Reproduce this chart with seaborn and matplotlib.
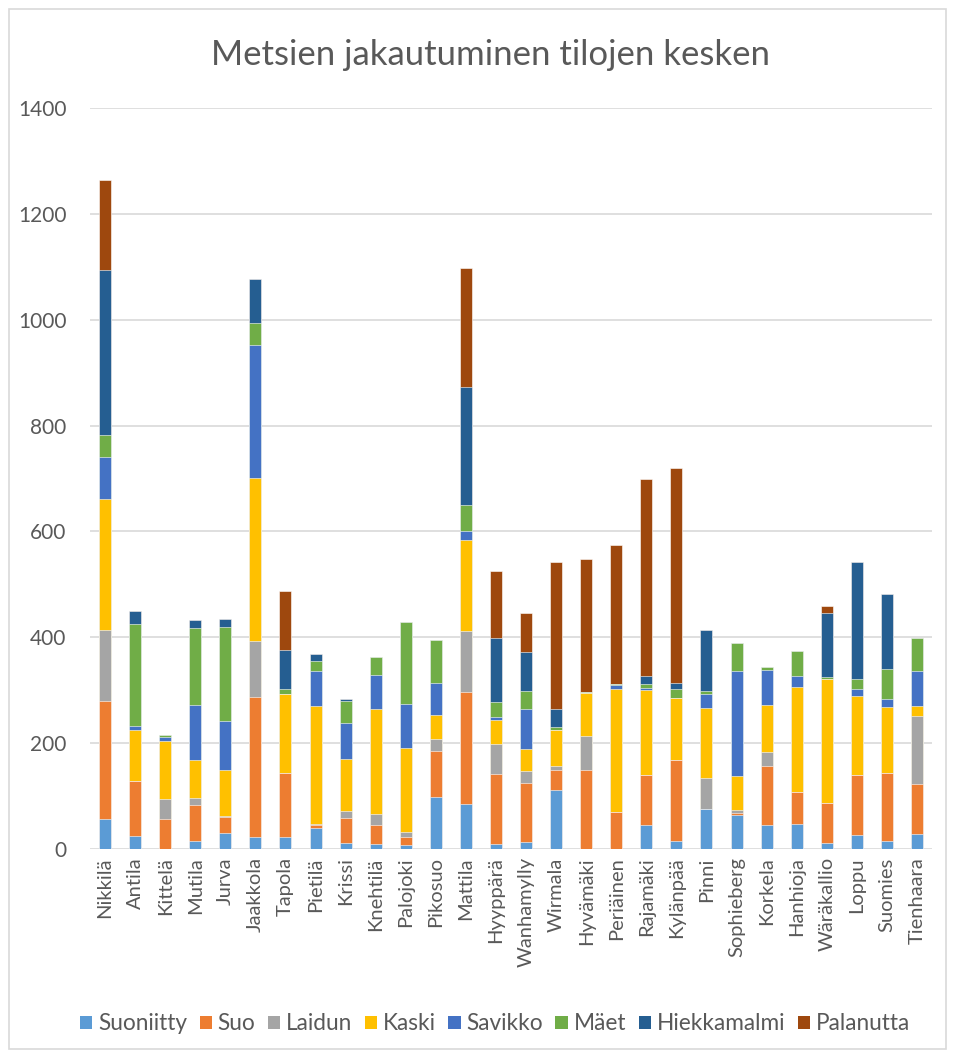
import numpy as np
import pandas as pd
import matplotlib
matplotlib.use("Agg")
import matplotlib.pyplot as plt
from matplotlib.patches import Patch, Rectangle
import seaborn as sns

categories = ["Nikkilä", "Antila", "Kittelä", "Mutila", "Jurva", "Jaakkola", "Tapola",
              "Pietilä", "Krissi", "Knehtilä", "Palojoki", "Pikosuo", "Mattila",
              "Hyyppärä", "Wanhamylly", "Wirmala", "Hyvämäki", "Periäinen", "Rajamäki",
              "Kylänpää", "Pinni", "Sophieberg", "Korkela", "Hanhioja", "Wäräkallio",
              "Loppu", "Suomies", "Tienhaara"]

suoniitty   = [57, 25, 0, 16, 30, 23, 23, 39, 11, 9, 7, 99, 85, 9, 13, 112, 0, 0, 46, 15, 76, 64, 46, 47, 11, 26, 16, 29]
suo         = [223, 103, 56, 68, 30, 264, 121, 7, 48, 36, 15, 87, 211, 132, 111, 38, 150, 69, 93, 154, 0, 4, 110, 61, 76, 113, 128, 93]
laidun      = [133, 0, 38, 12, 3, 106, 0, 2, 12, 22, 11, 22, 115, 57, 23, 7, 64, 0, 0, 0, 59, 6, 28, 0, 0, 0, 0, 130]
kaski       = [249, 96, 110, 72, 86, 308, 148, 222, 99, 198, 158, 46, 173, 45, 42, 68, 80, 233, 161, 116, 131, 64, 88, 199, 234, 151, 125, 18]
savikko     = [79, 9, 8, 105, 93, 252, 0, 66, 69, 64, 83, 60, 16, 7, 76, 0, 0, 7, 5, 0, 27, 198, 67, 20, 0, 13, 15, 66]
maet        = [41, 193, 3, 144, 178, 40, 10, 19, 41, 34, 155, 80, 49, 28, 33, 6, 3, 3, 6, 17, 5, 54, 5, 48, 4, 19, 57, 63]
hiekkamalmi = [311, 24, 0, 16, 14, 83, 74, 13, 4, 0, 0, 0, 223, 121, 75, 34, 0, 0, 15, 12, 115, 0, 0, 0, 120, 221, 140, 0]
palanutta   = [171, 0, 0, 0, 0, 0, 112, 0, 0, 0, 0, 0, 225, 126, 73, 278, 251, 263, 373, 406, 0, 0, 0, 0, 14, 0, 0, 0]

series_names = ["Suoniitty", "Suo", "Laidun", "Kaski", "Savikko", "Mäet", "Hiekkamalmi", "Palanutta"]
series_vals = [suoniitty, suo, laidun, kaski, savikko, maet, hiekkamalmi, palanutta]
colors = ["#5B9BD5", "#ED7D31", "#A5A5A5", "#FFC000", "#4472C4", "#70AD47", "#255E91", "#9E480E"]

sns.set_theme(style="white")
plt.rcParams['font.family'] = ['Lato', 'DejaVu Sans']
text_col = "#595959"

fig = plt.figure(figsize=(9.55, 10.57), dpi=100)
ax = fig.add_axes([90/955, 1-849/1057, (932-90)/955, (849-108)/1057])

df = pd.DataFrame({n: v for n, v in zip(series_names, series_vals)}, index=categories)
cum = df.cumsum(axis=1)

# draw cumulative totals from the top series down so each segment is visible
for name, col in reversed(list(zip(series_names, colors))):
    sns.barplot(x=categories, y=cum[name].values, order=categories, color=col,
                width=0.4, saturation=1, ax=ax, edgecolor="white", linewidth=0.4)

ax.set_ylim(0, 1400)
ax.set_yticks(range(0, 1401, 200))
ax.set_xlim(-0.5, len(categories) - 0.5)
ax.yaxis.grid(True, color="#D9D9D9", linewidth=1.2)
ax.set_axisbelow(True)
for s in ax.spines.values():
    s.set_visible(False)
ax.tick_params(axis="y", length=0, pad=17, labelsize=15, labelcolor=text_col)
ax.tick_params(axis="x", length=0, pad=6, labelsize=14.5, labelcolor=text_col)
plt.setp(ax.get_xticklabels(), rotation=90)
ax.set_xlabel("")
ax.set_ylabel("")

fig.text(490/955, 1-55/1057, "Metsien jakautuminen tilojen kesken", ha="center", va="center",
         fontsize=25, color=text_col)

handles = [Patch(facecolor=c, edgecolor="none", label=n) for n, c in zip(series_names, colors)]
fig.legend(handles=handles, loc="center", bbox_to_anchor=(495/955, 1-1024/1057), ncol=8,
           frameon=False, fontsize=16.3, labelcolor=text_col, handlelength=0.55, handleheight=0.55,
           handletextpad=0.25, columnspacing=0.55)

fig.patches.append(Rectangle((9/955, 8/1057), (946-9)/955, (1048-8)/1057, transform=fig.transFigure,
                             fill=False, edgecolor="#D9D9D9", linewidth=1.2))

fig.savefig("out.png", dpi=100)
